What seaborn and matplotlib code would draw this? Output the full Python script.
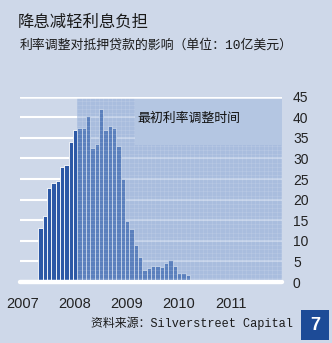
import numpy as np
import pandas as pd
import matplotlib
matplotlib.use("Agg")
import matplotlib.pyplot as plt
from matplotlib.patches import Rectangle
import seaborn as sns

# Monthly mortgage rate resets (USD bn), starting April 2007
resets_2007 = [13.0, 16.0, 22.9, 24.0, 24.6, 28.0, 28.4, 34.1, 36.9]          # Apr-Dec
resets_2008 = [37.4, 37.4, 40.4, 32.5, 33.5, 42.0, 37.0, 37.8, 37.4, 33.1, 25.0, 14.8]
resets_2009 = [12.8, 9.0, 6.0, 2.9, 3.3, 3.8, 3.8, 3.7, 4.5, 5.3, 3.9, 2.1]
resets_2010 = [2.1, 1.7, 0.0, 0.0, 0.0, 0.0, 0.0, 0.0, 0.0, 0.5, 0.0, 0.0]
resets_2011 = [0.0, 0.4, 0.0, 0.0, 0.0, 0.0, 0.4, 0.4, 0.0, 0.0, 0.0, 0.0]
first_month = 3                      # months counted from January 2007
year_labels = ["2007", "2008", "2009", "2010", "2011"]
y_ticks = [0, 5, 10, 15, 20, 25, 30, 35, 40, 45]

title = "降息减轻利息负担"
subtitle = "利率调整对抵押贷款的影响（单位：10亿美元）"
note = "最初利率调整时间"
source = "资料来源：Silverstreet Capital"
page_no = "7"

resets = resets_2007 + resets_2008 + resets_2009 + resets_2010 + resets_2011
month_idx = np.arange(len(resets)) + first_month
df = pd.DataFrame({"month": month_idx + 0.5, "value": resets})

sns.set_style("white")
plt.rcParams["font.family"] = ["Liberation Sans", "Noto Sans CJK SC"]

BG = "#ced8e9"
BAR = "#2c58a6"
W, H = 332, 343
fig = plt.figure(figsize=(W / 100, H / 100), dpi=100, facecolor=BG)
ax = fig.add_axes([20 / W, 1 - 282 / H, 262 / W, (282 - 96.7) / H])
ax.set_facecolor(BG)

x_min, x_max = -1.22, 59.24
shade_start = 12  # January 2008

# horizontal white rules
for v in y_ticks[1:-1]:
    ax.axhline(v, color="white", lw=1.5, zorder=1)

sns.barplot(data=df, x="month", y="value", native_scale=True, width=1.0,
            color=BAR, saturation=1, edgecolor="white", linewidth=0.6,
            errorbar=None, ax=ax)
for p in ax.patches:
    p.set_zorder(3)

# reset-period overlay with fine grid texture
ax.axvspan(shade_start, x_max, ymin=0, ymax=1, color="#88a6d4", alpha=0.52,
           lw=0, zorder=4)
ax.vlines(np.arange(shade_start, 60), 0, 45, color="white", alpha=0.14,
          lw=0.5, zorder=4.5)
ax.hlines(np.arange(1, 45), shade_start, x_max, color="white", alpha=0.14,
          lw=0.5, zorder=4.5)
ax.add_patch(Rectangle((25.3, 33.3), x_max - 25.3, 45 - 33.3, color="#b4c6e2",
                       lw=0, zorder=5))
ax.text(25.8, 39.8, note, fontsize=9.3, va="center", color="#111111",
        family=["Noto Sans CJK SC"], zorder=7)

ax.axhline(45, color="white", lw=1.8, zorder=6)
ax.axhline(0, color="white", lw=3.2, zorder=6, clip_on=False)

ax.set_xlim(x_min, x_max)
ax.set_ylim(0, 45)
ax.yaxis.tick_right()
ax.set_yticks(y_ticks)
ax.set_yticklabels([str(t) for t in y_ticks])
ax.set_xticks([12 * k - 0.5 for k in range(len(year_labels))])
ax.set_xticklabels(year_labels)
ax.tick_params(axis="y", length=0, pad=7.9, labelsize=10, labelcolor="#222222")
ax.tick_params(axis="x", length=0, pad=11, labelsize=10.5, labelcolor="#222222")
ax.set_xlabel("")
ax.set_ylabel("")
for s in ax.spines.values():
    s.set_visible(False)

fig.text(18 / W, 1 - 22.5 / H, title, fontsize=11.8, va="center",
         color="#1a1a1a", family=["Noto Sans CJK SC"])
fig.text(20 / W, 1 - 45.5 / H, subtitle, fontsize=9.3, va="center",
         color="#1a1a1a", family=["Liberation Mono", "Noto Sans CJK SC"])
fig.text(293 / W, 1 - 323.5 / H, source, fontsize=8.6, ha="right",
         va="center", color="#1a1a1a",
         family=["Liberation Mono", "Noto Sans CJK SC"])

fig.add_artist(Rectangle((301 / W, 1 - 340 / H), 28 / W, 30 / H,
                         transform=fig.transFigure, color="#1d4b97", lw=0))
fig.text(315 / W, 1 - 325 / H, page_no, fontsize=13, fontweight="bold",
         ha="center", va="center", color="white")

fig.savefig("out.png", dpi=100, facecolor=BG)
